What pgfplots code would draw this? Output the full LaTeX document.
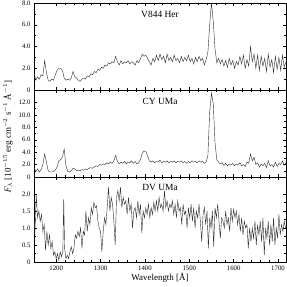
\documentclass[border=0pt]{standalone}
\usepackage{pgfplots}
\pgfplotsset{compat=1.18}
\usepackage{fontspec}
\setmainfont{Liberation Serif}
\begin{document}
\begin{tikzpicture}
\tikzset{ttl/.style={font=\fontsize{9.5}{11}\selectfont, anchor=north},
  spec/.style={black!80, line width=0.42pt}}
\pgfplotsset{
  panel/.style={
    scale only axis, width=252bp, height=87bp,
    xmin=1150, xmax=1718,
    xtick={1200,1300,1400,1500,1600,1700},
    minor x tick num=4,
    minor y tick num=1,
    tick align=inside,
    major tick length=3bp, minor tick length=1.6bp,
    tick style={line width=0.4pt,black},
    axis line style={line width=0.5pt},
    ticklabel style={font=\fontsize{6.8}{8}\selectfont},
    /pgf/number format/assume math mode=true,
    clip=true,
  },
}
\begin{axis}[panel, name=p1, at={(0bp,0bp)}, anchor=north west,
  ymin=0, ymax=8, ytick={0,2,4,6,8}, yticklabels={0,2.0,4.0,6.0,8.0},
  xticklabels={}]
\addplot[spec, mark=none] coordinates {
(1150,1.6)(1154,0.9)(1158,1.2)(1162,1.0)(1166,1.4)(1170,1.3)(1174,2.7)(1178,1.6)(1182,0.9)(1186,0.8)
(1190,1.0)(1194,0.9)(1198,1.4)(1202,1.8)(1206,2.0)(1210,2.0)(1214,1.8)(1218,1.1)(1222,0.9)(1226,1.0)
(1230,0.9)(1234,1.1)(1238,1.7)(1242,1.2)(1246,1.1)(1250,0.9)(1254,0.8)(1258,1.0)(1262,1.1)(1266,1.0)
(1270,1.3)(1274,1.2)(1278,1.5)(1282,1.4)(1286,1.7)(1290,1.6)(1294,1.9)(1298,1.8)(1302,2.1)(1306,2.0)
(1310,2.3)(1314,2.2)(1318,2.5)(1322,2.4)(1326,2.6)(1330,2.5)(1334,3.1)(1338,2.6)(1342,2.3)(1346,2.7)
(1350,2.4)(1354,2.6)(1358,2.5)(1362,2.7)(1366,2.4)(1370,2.6)(1374,2.5)(1378,2.3)(1382,2.7)(1386,2.5)
(1390,2.9)(1394,3.3)(1398,3.1)(1402,3.2)(1406,2.9)(1410,2.6)(1414,2.3)(1418,2.9)(1422,2.6)(1426,3.2)
(1430,2.7)(1434,3.3)(1438,2.8)(1442,3.1)(1446,2.5)(1450,3.3)(1454,2.7)(1458,3.0)(1462,2.6)(1466,3.2)
(1470,2.7)(1474,2.9)(1478,2.5)(1482,3.1)(1486,2.6)(1490,3.0)(1494,2.7)(1498,3.2)(1502,2.6)(1506,2.9)
(1510,2.4)(1514,3.0)(1518,2.6)(1522,3.1)(1526,2.7)(1530,2.9)(1534,2.3)(1538,2.8)(1542,3.5)(1546,6.0)
(1550,8.1)(1554,6.3)(1558,3.8)(1562,2.5)(1566,2.9)(1570,2.4)(1574,2.8)(1578,2.2)(1582,2.7)(1586,2.1)
(1590,2.9)(1594,2.3)(1598,2.7)(1602,2.0)(1606,2.6)(1610,2.3)(1614,3.1)(1618,2.4)(1622,3.2)(1626,2.0)
(1630,2.8)(1634,2.2)(1638,4.0)(1642,2.6)(1646,3.3)(1650,2.0)(1654,3.2)(1658,1.8)(1662,3.1)(1666,2.2)
(1670,2.9)(1674,1.7)(1678,3.3)(1682,2.1)(1686,2.8)(1690,1.6)(1694,3.1)(1698,1.9)(1702,3.0)(1706,1.8)
(1710,3.2)(1714,2.1)(1718,2.6)};
\node[ttl] at (rel axis cs:0.5,0.95) {V844 Her};
\end{axis}
\begin{axis}[panel, name=p2, at={(0bp,-87bp)}, anchor=north west,
  ymin=0, ymax=14, ytick={0,2,4,6,8,10,12}, yticklabels={0,2.0,4.0,6.0,8.0,10.0,12.0},
  xticklabels={},
  ylabel={$F_\lambda$ [10$^{-15}$ erg cm$^{-2}$ s$^{-1}$ \AA$^{-1}$]},
  ylabel style={font=\fontsize{9}{10}\selectfont, at={(axis description cs:-0.103,0.46)}, anchor=center}]
\addplot[spec, mark=none] coordinates {
(1150,1.5)(1154,0.9)(1158,1.3)(1162,0.8)(1166,1.2)(1170,2.0)(1174,3.7)(1178,2.4)(1182,1.0)(1186,0.8)
(1190,0.8)(1194,0.9)(1198,1.1)(1202,1.6)(1206,2.6)(1210,2.8)(1214,3.2)(1218,4.5)(1222,1.8)(1226,0.9)
(1230,0.8)(1234,1.0)(1238,1.4)(1242,1.3)(1246,1.0)(1250,1.1)(1254,1.0)(1258,1.2)(1262,1.1)(1266,1.3)
(1270,1.2)(1274,1.4)(1278,1.5)(1282,1.4)(1286,1.6)(1290,1.8)(1294,1.7)(1298,2.0)(1302,1.9)(1306,2.1)
(1310,2.0)(1314,2.3)(1318,2.1)(1322,2.4)(1326,2.2)(1330,2.6)(1334,3.5)(1338,2.5)(1342,2.1)(1346,2.4)
(1350,2.2)(1354,2.5)(1358,2.1)(1362,2.4)(1366,2.3)(1370,2.6)(1374,2.2)(1378,2.5)(1382,2.1)(1386,2.3)
(1390,2.8)(1394,3.8)(1398,4.2)(1402,4.1)(1406,3.4)(1410,2.6)(1414,2.4)(1418,2.6)(1422,2.3)(1426,2.5)
(1430,2.4)(1434,2.7)(1438,2.3)(1442,2.5)(1446,2.4)(1450,2.6)(1454,2.3)(1458,2.5)(1462,2.4)(1466,2.6)
(1470,2.3)(1474,2.5)(1478,2.4)(1482,2.6)(1486,2.3)(1490,2.5)(1494,2.2)(1498,2.5)(1502,2.3)(1506,2.6)
(1510,2.4)(1514,2.5)(1518,2.3)(1522,2.6)(1526,2.4)(1530,2.5)(1534,2.2)(1538,2.4)(1542,3.5)(1546,10.5)
(1550,13.5)(1554,11.8)(1558,5.5)(1562,2.8)(1566,2.4)(1570,2.1)(1574,2.3)(1578,1.9)(1582,2.2)(1586,1.8)
(1590,2.1)(1594,1.9)(1598,2.2)(1602,1.8)(1606,2.1)(1610,1.9)(1614,2.3)(1618,1.8)(1622,2.0)(1626,1.7)
(1630,2.4)(1634,2.2)(1638,3.7)(1642,2.6)(1646,3.2)(1650,2.0)(1654,2.3)(1658,1.6)(1662,2.1)(1666,1.8)
(1670,2.2)(1674,1.5)(1678,2.6)(1682,1.8)(1686,2.0)(1690,1.6)(1694,2.4)(1698,1.7)(1702,2.2)(1706,2.0)
(1710,2.6)(1714,1.9)(1718,2.3)};
\node[ttl] at (rel axis cs:0.5,0.95) {CY UMa};
\end{axis}
\begin{axis}[panel, name=p3, at={(0bp,-174bp)}, anchor=north west, height=85bp,
  ymin=0, ymax=2.5, ytick={0,0.5,1,1.5,2}, yticklabels={0,0.5,1.0,1.5,2.0},
  xticklabels={1200,1300,1400,1500,1600,1700},
  xlabel={Wavelength [\AA]},
  xlabel style={font=\fontsize{9}{10}\selectfont, yshift=3.5bp}]
\addplot[spec, mark=none] coordinates {
(1150,1.3)(1152,0.8)(1155,2.0)(1158,1.3)(1161,1.5)(1164,1.2)(1167,1.4)(1170,0.9)(1173,1.1)(1176,0.35)
(1179,0.9)(1182,0.5)(1185,0.8)(1188,0.4)(1191,0.6)(1194,0.2)(1197,0.3)(1200,0.1)(1203,0.25)(1206,0.05)
(1209,0.3)(1212,0.15)(1215,0.3)(1217,1.85)(1219,0.4)(1222,0.1)(1225,0.2)(1228,0.1)(1231,0.3)(1234,0.45)
(1237,0.25)(1240,0.4)(1243,0.8)(1246,0.7)(1249,0.9)(1252,0.75)(1255,1.0)(1258,0.4)(1261,0.9)(1264,0.8)
(1267,1.5)(1270,0.9)(1273,1.3)(1276,1.1)(1279,1.6)(1282,1.4)(1285,1.75)(1288,1.6)(1291,1.65)(1294,1.2)
(1297,1.0)(1300,0.9)(1303,0.3)(1306,0.9)(1309,1.3)(1312,1.1)(1315,1.6)(1318,2.2)(1321,1.5)(1324,1.9)
(1327,1.7)(1330,1.2)(1333,0.5)(1336,1.9)(1339,2.1)(1342,1.8)(1345,2.2)(1348,1.6)(1351,1.9)(1354,1.7)
(1357,1.8)(1360,1.4)(1363,1.9)(1366,1.5)(1369,1.7)(1372,1.0)(1375,1.5)(1378,1.6)(1381,1.3)(1384,1.8)
(1387,1.4)(1390,1.7)(1393,0.85)(1396,1.5)(1399,1.3)(1402,1.6)(1405,1.4)(1408,1.7)(1411,1.3)(1414,1.6)
(1417,1.4)(1420,1.75)(1423,1.5)(1426,1.8)(1429,1.5)(1432,1.9)(1435,1.6)(1438,1.7)(1441,1.5)(1444,2.1)
(1447,1.6)(1450,1.8)(1453,1.5)(1456,1.7)(1459,1.6)(1462,1.8)(1465,1.4)(1468,1.7)(1471,1.3)(1474,1.8)
(1477,1.5)(1480,1.6)(1483,1.1)(1486,1.7)(1489,1.4)(1492,1.5)(1495,1.0)(1498,1.6)(1501,1.3)(1504,1.7)
(1507,1.2)(1510,1.6)(1513,1.0)(1516,1.5)(1519,1.3)(1522,1.7)(1525,1.2)(1528,0.6)(1531,1.4)(1534,1.6)
(1537,1.1)(1540,1.5)(1543,0.4)(1546,1.3)(1549,1.0)(1552,1.5)(1555,0.45)(1558,1.6)(1561,1.3)(1564,1.7)
(1567,1.2)(1570,0.7)(1573,1.3)(1576,1.2)(1579,1.0)(1582,1.5)(1585,1.1)(1588,1.3)(1591,0.9)(1594,1.6)
(1597,1.2)(1600,1.55)(1603,1.3)(1606,1.5)(1609,1.1)(1612,1.4)(1615,0.9)(1618,1.3)(1621,0.8)(1624,1.2)
(1627,1.0)(1630,1.1)(1633,0.4)(1636,1.0)(1639,0.6)(1642,1.0)(1645,0.7)(1648,1.2)(1651,0.5)(1654,1.1)
(1657,0.8)(1660,1.2)(1663,0.6)(1666,1.3)(1669,0.2)(1672,1.0)(1675,0.7)(1678,1.2)(1681,0.5)(1684,1.1)
(1687,0.6)(1690,1.3)(1693,0.5)(1696,1.0)(1699,0.7)(1702,1.4)(1705,0.8)(1708,1.1)(1711,0.9)(1714,1.2)
(1717,1.0)};
\node[ttl] at (rel axis cs:0.5,0.95) {DV UMa};
\end{axis}
\pgfresetboundingbox
\path (-34bp,3bp) rectangle (253bp,-284bp);
\end{tikzpicture}
\end{document}
